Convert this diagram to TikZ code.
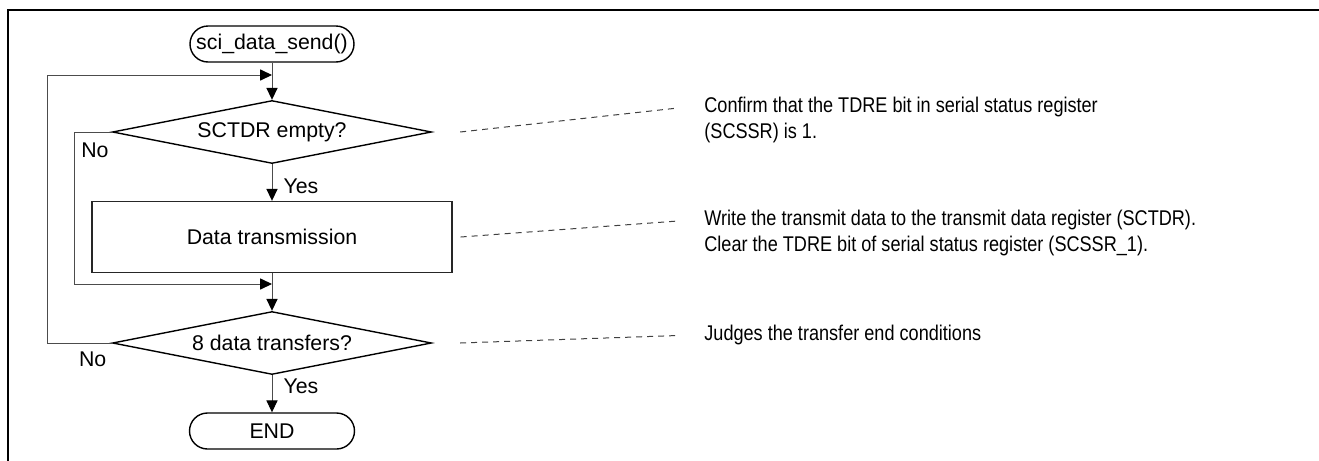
\documentclass[tikz,border=0pt]{standalone}
\usepackage{fontspec}
\setmainfont{Liberation Sans}
\newfontfamily\narrowfont[FakeStretch=0.85]{Liberation Sans}
\usetikzlibrary{shapes.geometric,arrows.meta}

\begin{document}
\begin{tikzpicture}[x=0.5pt,y=-0.5pt,
	font=\fontsize{10.65}{13}\selectfont,
	terminal/.style={draw=black,line width=.7pt,rounded corners=9pt,minimum width=82pt,minimum height=18pt,inner sep=0pt},
	decide/.style={draw=black,line width=.7pt,diamond,aspect=5,minimum width=159.5pt,minimum height=31.5pt,inner sep=0pt},
	proc/.style={draw=black!85,line width=.7pt,minimum width=180pt,minimum height=35.5pt,inner sep=0pt},
	flow/.style={draw=black!70,line width=.5pt},
	arr/.style={-{Triangle[length=6pt,width=5.6pt,color=black]}},
	lbl/.style={inner sep=0pt},
	notebox/.style={font=\narrowfont\fontsize{10.65}{13}\selectfont,align=left,anchor=north west,inner sep=0pt},
	leader/.style={draw=black!75,line width=.5pt,dash pattern=on 3pt off 2.5pt}]
		\useasboundingbox (0,0) rectangle (1319,461);
		\draw[line width=1.25pt](8,461) -- (8,10) -- (1319,10);

		% flow chart
		\node[terminal] (start) at(272,44){sci\_data\_send()};
		\node[decide] (empty) at(272,132){SCTDR empty?};
		\node[proc] (send) at(272,237){Data transmission};
		\node[decide] (count) at(272,343){8 data transfers?};
		\node[terminal,minimum width=82.5pt] (stop) at(272,431){END};
		\coordinate (top) at(272,75);
		\coordinate (mid) at(272,284);

		\draw[flow,arr](start) -- (empty);
		\draw[flow,arr](empty) -- node[lbl,pos=.6,right=5.5pt]{Yes} (send);
		\draw[flow,arr](send) -- (count);
		\draw[flow,arr](count) -- node[lbl,pos=.31,right=5.5pt]{Yes} (stop);
		\draw[flow,arr](empty.west) -- ++(-37,0) node[lbl,anchor=north west,shift={(3pt,-5.25pt)}]{No} |- (mid);
		\draw[flow,arr](count.west) -- node[lbl,pos=0,anchor=north east,shift={(-2.5pt,-4.25pt)}]{No} ++(-64,0) |- (top);

		% notes
		\node[notebox] (n1) at(704,97){Confirm that the TDRE bit in serial status register\\(SCSSR) is 1.};
		\node[notebox] (n2) at(704,210){Write the transmit data to the transmit data register (SCTDR).\\Clear the TDRE bit of serial status register (SCSSR\_1).};
		\node[notebox] (n3) at(704,324.5){Judges the transfer end conditions};
		\draw[leader]([xshift=14pt]empty.east) -- ([shift={(-13pt,-5.5pt)}]n1.north west);
		\draw[leader]([xshift=4pt]send.east) -- ([shift={(-13pt,-5.5pt)}]n2.north west);
		\draw[leader]([xshift=14pt]count.east) -- ([shift={(-13pt,-5.5pt)}]n3.north west);
	\end{tikzpicture}
\end{document}
